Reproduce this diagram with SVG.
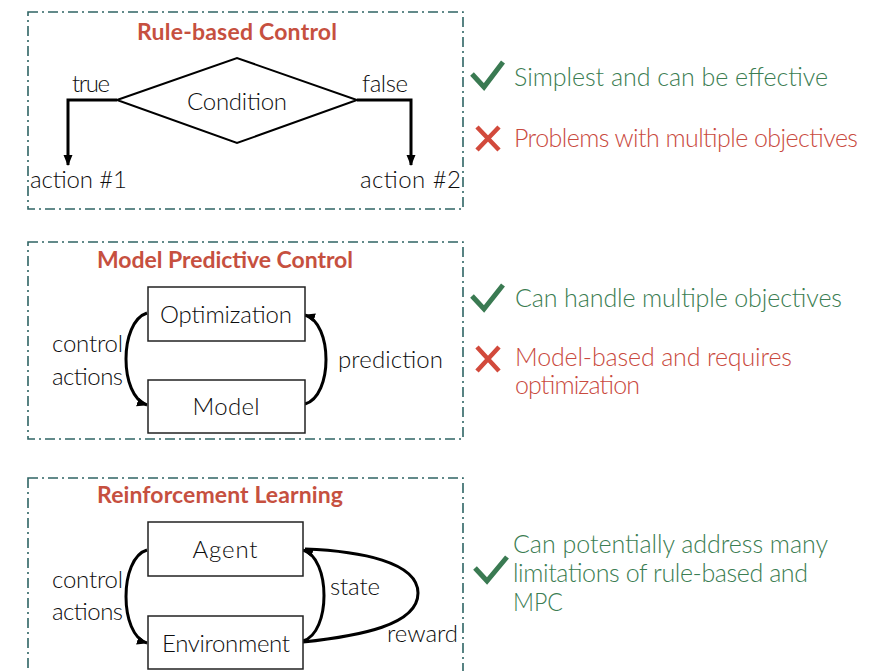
<svg xmlns="http://www.w3.org/2000/svg" width="879" height="671" viewBox="0 0 879 671">
  <defs>
    <marker id="arrow" markerUnits="userSpaceOnUse" markerWidth="12" markerHeight="12" viewBox="0 0 12 12" refX="10" refY="6" orient="auto">
      <path d="M0,1.5 L11,6 L0,10.5 Z" fill="#000"/>
    </marker>
    <style>
      .panel { fill: none; stroke: #2f6464; stroke-width: 1.6; stroke-dasharray: 10 4 2 4; }
      .title { font-family: Lato, "Liberation Sans", sans-serif; font-weight: bold; font-size: 23px; fill: #c6503f; text-anchor: middle; }
      .lbl { font-family: Lato, "Liberation Sans", sans-serif; font-weight: 300; font-size: 24px; fill: #0d0d0d; }
      .mid { text-anchor: middle; }
      .box { fill: #fff; stroke: #222; stroke-width: 1.5; }
      .edge { fill: none; stroke: #000; stroke-width: 3; }
      .pro { font-family: Lato, "Liberation Sans", sans-serif; font-weight: 300; font-size: 25px; fill: #3b7d52; }
      .con { font-family: Lato, "Liberation Sans", sans-serif; font-weight: 300; font-size: 25px; fill: #c94a3e; }
      .tick { fill: none; stroke: #3a7a52; stroke-width: 5; stroke-linecap: butt; stroke-linejoin: miter; }
      .cross { fill: none; stroke: #d24a3c; stroke-width: 4.5; }
    </style>
  </defs>

  <rect width="879" height="671" fill="#fff"/>

  <!-- panel frames -->
  <rect class="panel" x="28" y="12" width="435" height="197"/>
  <rect class="panel" x="28" y="242" width="435" height="197"/>
  <rect class="panel" x="28" y="478" width="435" height="240"/>

  <!-- panel titles -->
  <text class="title" x="237" y="40" textLength="200">Rule-based Control</text>
  <text class="title" x="225" y="268" textLength="256">Model Predictive Control</text>
  <text class="title" x="220" y="503" textLength="246">Reinforcement Learning</text>

  <!-- connectors -->
  <g id="connectors">
    <path class="edge" d="M117,100 H68 V165" stroke-width="2.5" marker-end="url(#arrow)"/>
    <path class="edge" d="M357,100 H411 V165" stroke-width="2.5" marker-end="url(#arrow)"/>
    <path class="edge" d="M147,313 C119,322 119,396 147,405" marker-end="url(#arrow)"/>
    <path class="edge" d="M305,404 C333,396 333,323 305,315" marker-end="url(#arrow)"/>
    <path class="edge" d="M147,550 C119,558 119,635 147,643" marker-end="url(#arrow)"/>
    <path class="edge" d="M303,641 C331,633 331,558 303,550" marker-end="url(#arrow)"/>
    <path class="edge" d="M303,642 C360,636 418,625 418,593 C418,562 360,551 305,549"/>
    <text class="lbl" x="72" y="92" textLength="38">true</text>
    <text class="lbl" x="362" y="92" textLength="46">false</text>
    <text class="lbl" x="52" y="352" textLength="71">control</text>
    <text class="lbl" x="52" y="385" textLength="71">actions</text>
    <text class="lbl" x="338" y="368" textLength="105">prediction</text>
    <text class="lbl" x="52" y="588" textLength="71">control</text>
    <text class="lbl" x="52" y="620" textLength="71">actions</text>
    <text class="lbl" x="330" y="595" textLength="50">state</text>
    <text class="lbl" x="387" y="642" textLength="71">reward</text>
  </g>

  <!-- rule-based control -->
  <g id="condition">
    <path d="M117,100 L237,58 L357,100 L237,143 Z" fill="#fff" stroke="#000" stroke-width="2"/>
    <text class="lbl mid" x="237" y="110" textLength="100">Condition</text>
  </g>
  <g id="action1">
    <text class="lbl" x="30" y="188" textLength="97">action #1</text>
  </g>
  <g id="action2">
    <text class="lbl" x="360" y="188" textLength="101">action #2</text>
  </g>

  <!-- model predictive control -->
  <g id="optimization">
    <rect class="box" x="148" y="287" width="157" height="54"/>
    <text class="lbl mid" x="226" y="323" textLength="132">Optimization</text>
  </g>
  <g id="model">
    <rect class="box" x="148" y="380" width="157" height="53"/>
    <text class="lbl mid" x="226" y="415" textLength="67">Model</text>
  </g>

  <!-- reinforcement learning -->
  <g id="agent">
    <rect class="box" x="148" y="522" width="155" height="54"/>
    <text class="lbl mid" x="225" y="558" textLength="65">Agent</text>
  </g>
  <g id="environment">
    <rect class="box" x="148" y="616" width="155" height="53"/>
    <text class="lbl mid" x="226" y="652" textLength="128">Environment</text>
  </g>

  <!-- pros and cons -->
  <g id="rule-pros-cons">
    <path class="tick" d="M472,74 L484,87 L503,62"/>
    <text class="pro" x="514" y="86" textLength="314">Simplest and can be effective</text>
    <path class="cross" d="M477,127 L499,150 M499,127 L477,150"/>
    <text class="con" x="514" y="147" textLength="344">Problems with multiple objectives</text>
  </g>
  <g id="mpc-pros-cons">
    <path class="tick" d="M472,296 L484,309 L503,285"/>
    <text class="pro" x="515" y="307" textLength="327">Can handle multiple objectives</text>
    <path class="cross" d="M477,347 L499,371 M499,347 L477,371"/>
    <text class="con" x="515" y="366" textLength="277">Model-based and requires</text>
    <text class="con" x="515" y="394" textLength="125">optimization</text>
  </g>
  <g id="rl-pros">
    <path class="tick" d="M475,568 L487,581 L507,557"/>
    <text class="pro" x="513" y="553" textLength="315">Can potentially address many</text>
    <text class="pro" x="513" y="582" textLength="295">limitations of rule-based and</text>
    <text class="pro" x="513" y="611" textLength="50" lengthAdjust="spacingAndGlyphs">MPC</text>
  </g>
</svg>
